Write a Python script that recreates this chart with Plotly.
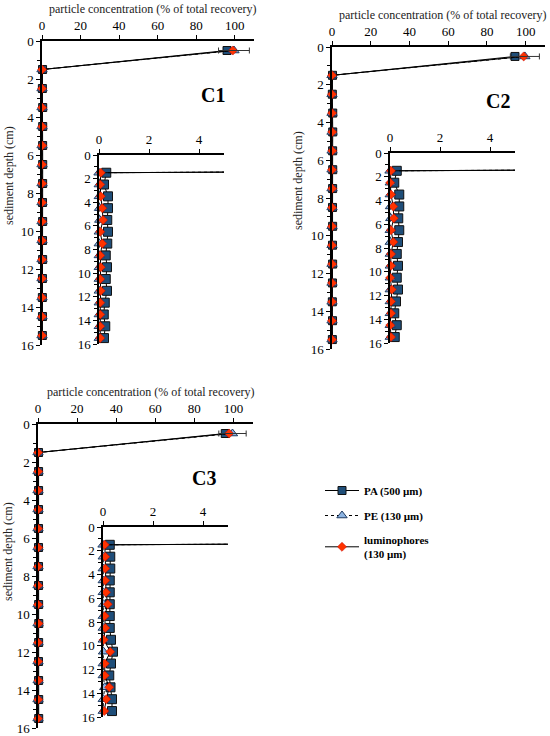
import plotly.graph_objects as go

W, H = 550, 736

# sediment depth (cm), mid points of the 1 cm slices
depth = [0.5, 1.5, 2.5, 3.5, 4.5, 5.5, 6.5, 7.5, 8.5, 9.5, 10.5, 11.5, 12.5, 13.5, 14.5, 15.5]

# particle concentration (% of total recovery)
c1_pa = [96.0, 0.29, 0.20, 0.36, 0.36, 0.33, 0.36, 0.33, 0.27, 0.32, 0.27, 0.32, 0.23, 0.19, 0.25, 0.20]
c1_pe = [99.6, 0.00, 0.01, 0.01, 0.02, 0.03, 0.01, 0.01, 0.01, 0.01, 0.01, 0.01, 0.01, 0.01, 0.01, 0.01]
c1_lum = [99.0, 0.07, 0.05, 0.07, 0.13, 0.16, 0.05, 0.13, 0.05, 0.07, 0.05, 0.07, 0.05, 0.05, 0.05, 0.05]

c2_pa = [94.5, 0.27, 0.17, 0.37, 0.37, 0.33, 0.37, 0.32, 0.27, 0.32, 0.27, 0.32, 0.24, 0.17, 0.27, 0.19]
c2_pe = [99.6, 0.00, 0.01, 0.01, 0.02, 0.03, 0.01, 0.01, 0.01, 0.01, 0.01, 0.01, 0.01, 0.01, 0.01, 0.01]
c2_lum = [99.0, 0.04, 0.01, 0.04, 0.13, 0.15, 0.04, 0.13, 0.04, 0.04, 0.01, 0.07, 0.04, 0.04, 0.01, 0.04]

c3_pa = [95.8, 0.27, 0.29, 0.29, 0.27, 0.27, 0.27, 0.27, 0.27, 0.32, 0.40, 0.32, 0.25, 0.30, 0.36, 0.36]
c3_pe = [99.5, 0.00, 0.01, 0.01, 0.01, 0.01, 0.02, 0.01, 0.01, 0.01, 0.02, 0.01, 0.01, 0.07, 0.01, 0.01]
c3_lum = [97.8, 0.07, 0.09, 0.09, 0.09, 0.12, 0.19, 0.07, 0.09, 0.03, 0.29, 0.07, 0.07, 0.25, 0.13, 0.05]

# standard deviation of the surface slice
surface_sd = [8.0, 7.5, 7.0]

cores = ["C1", "C2", "C3"]
core_data = [(c1_pa, c1_pe, c1_lum), (c2_pa, c2_pe, c2_lum), (c3_pa, c3_pe, c3_lum)]

series_names = ["PA (500 µm)", "PE (130 µm)", "luminophores<br>(130 µm)"]
series_color = ["#1F4E79", "#8DB4E2", "#FF3300"]
series_symbol = ["square", "triangle-up", "diamond"]
series_outline = [dict(color="#111111", width=1), dict(color="#1F3A5F", width=1),
                  dict(color="#C00000", width=0.5)]
main_size = [8, 9, 7]
inset_size = [9, 9, 7]
line_style = [
    dict(color="black", width=1),
    dict(color="black", width=1, dash="dot"),
    dict(color="black", width=1),
]

# pixel boxes (left, right, top, bottom) for main plots and insets
main_box = [(42, 254, 41, 345), (332, 545, 47, 349), (38, 253, 424, 728)]
inset_box = [(99, 224, 155, 344), (390, 515, 153, 343), (103, 228, 527, 717)]
ytitle_pos = [(9, 176), (298, 181), (8, 552)]

SERIF = "Liberation Serif, Times New Roman, serif"


def xdom(b):
    return [b[0] / W, b[1] / W]


def ydom(b):
    return [1 - b[3] / H, 1 - b[2] / H]


fig = go.Figure()
layout = dict(
    width=W, height=H,
    margin=dict(l=0, r=0, t=0, b=0, pad=0, autoexpand=False),
    paper_bgcolor="white", plot_bgcolor="rgba(0,0,0,0)",
    font=dict(family=SERIF, size=13, color="black"),
    showlegend=True,
    legend=dict(x=320 / W, y=1 - 476 / H, xanchor="left", yanchor="top",
                font=dict(family=SERIF, size=11, color="black", weight="bold"),
                traceorder="grouped", tracegroupgap=6, itemwidth=34,
                bgcolor="rgba(0,0,0,0)"),
)

annotations = []
ax_n = 1
for ci, core in enumerate(cores):
    for kind, box, xr in (("main", main_box[ci], [0, 110]), ("inset", inset_box[ci], [0, 5])):
        xa = "x" if ax_n == 1 else f"x{ax_n}"
        ya = "y" if ax_n == 1 else f"y{ax_n}"
        key = "" if ax_n == 1 else str(ax_n)
        layout["xaxis" + key] = dict(
            domain=xdom(box), anchor=ya, side="top", range=xr, automargin=False,
            dtick=20 if kind == "main" else 2, tick0=0,
            showgrid=False, zeroline=False, showline=True,
            linecolor="black", linewidth=1.5,
            ticks="outside", ticklen=4, tickwidth=1, tickcolor="black",
            tickfont=dict(family=SERIF, size=13, color="black"),
        )
        layout["yaxis" + key] = dict(
            domain=ydom(box), anchor=xa, range=[16, 0], automargin=False,
            dtick=2, tick0=0,
            showgrid=False, zeroline=False, showline=True,
            linecolor="black", linewidth=1.5,
            ticks="outside", ticklen=4, tickwidth=1, tickcolor="black",
            minor=dict(dtick=1, ticks="outside", ticklen=3, tickcolor="black"),
            tickfont=dict(family=SERIF, size=13, color="black"),
        )
        sizes = main_size if kind == "main" else inset_size
        for si, vals in enumerate(core_data[ci]):
            fig.add_trace(go.Scatter(
                x=vals, y=depth, xaxis=xa, yaxis=ya,
                mode="lines+markers", name=series_names[si],
                legendgroup=str(si),
                showlegend=(ci == 0 and kind == "main"),
                line=line_style[si],
                marker=dict(symbol=series_symbol[si], size=sizes[si],
                            color=series_color[si], line=series_outline[si]),
                cliponaxis=False,
            ))
        if kind == "main":
            pe = core_data[ci][1]
            fig.add_trace(go.Scatter(
                x=pe[:1], y=depth[:1], xaxis=xa, yaxis=ya, mode="markers",
                marker=dict(size=1, color="rgba(0,0,0,0)"), showlegend=False,
                error_x=dict(type="data", array=[surface_sd[ci]], color="#333333",
                             thickness=1, width=3),
            ))
            # axis titles and panel label
            annotations.append(dict(
                text="particle concentration (% of total recovery)",
                x=((box[0] + box[1]) / 2 + (5 if ci != 1 else 4)) / W,
                y=1 - (box[2] - 32) / H, xref="paper", yref="paper",
                xanchor="center", yanchor="middle",
                showarrow=False, font=dict(family=SERIF, size=12, color="#222222")))
            annotations.append(dict(
                text="sediment depth (cm)", textangle=-90,
                x=ytitle_pos[ci][0] / W, y=1 - ytitle_pos[ci][1] / H,
                xref="paper", yref="paper", xanchor="center", yanchor="middle",
                showarrow=False, font=dict(family=SERIF, size=12, color="#222222")))
            annotations.append(dict(
                text="<b>" + core + "</b>", x=(box[0] + (171 if ci == 0 else 166)) / W,
                y=1 - (box[2] + 54) / H, xref="paper", yref="paper",
                xanchor="center", yanchor="middle",
                showarrow=False, font=dict(family=SERIF, size=20, color="black")))
        ax_n += 1

layout["annotations"] = annotations
fig.update_layout(**layout)
fig.write_html("out.html", config={"displayModeBar": False},
               post_script="document.body.style.margin='0px';")
